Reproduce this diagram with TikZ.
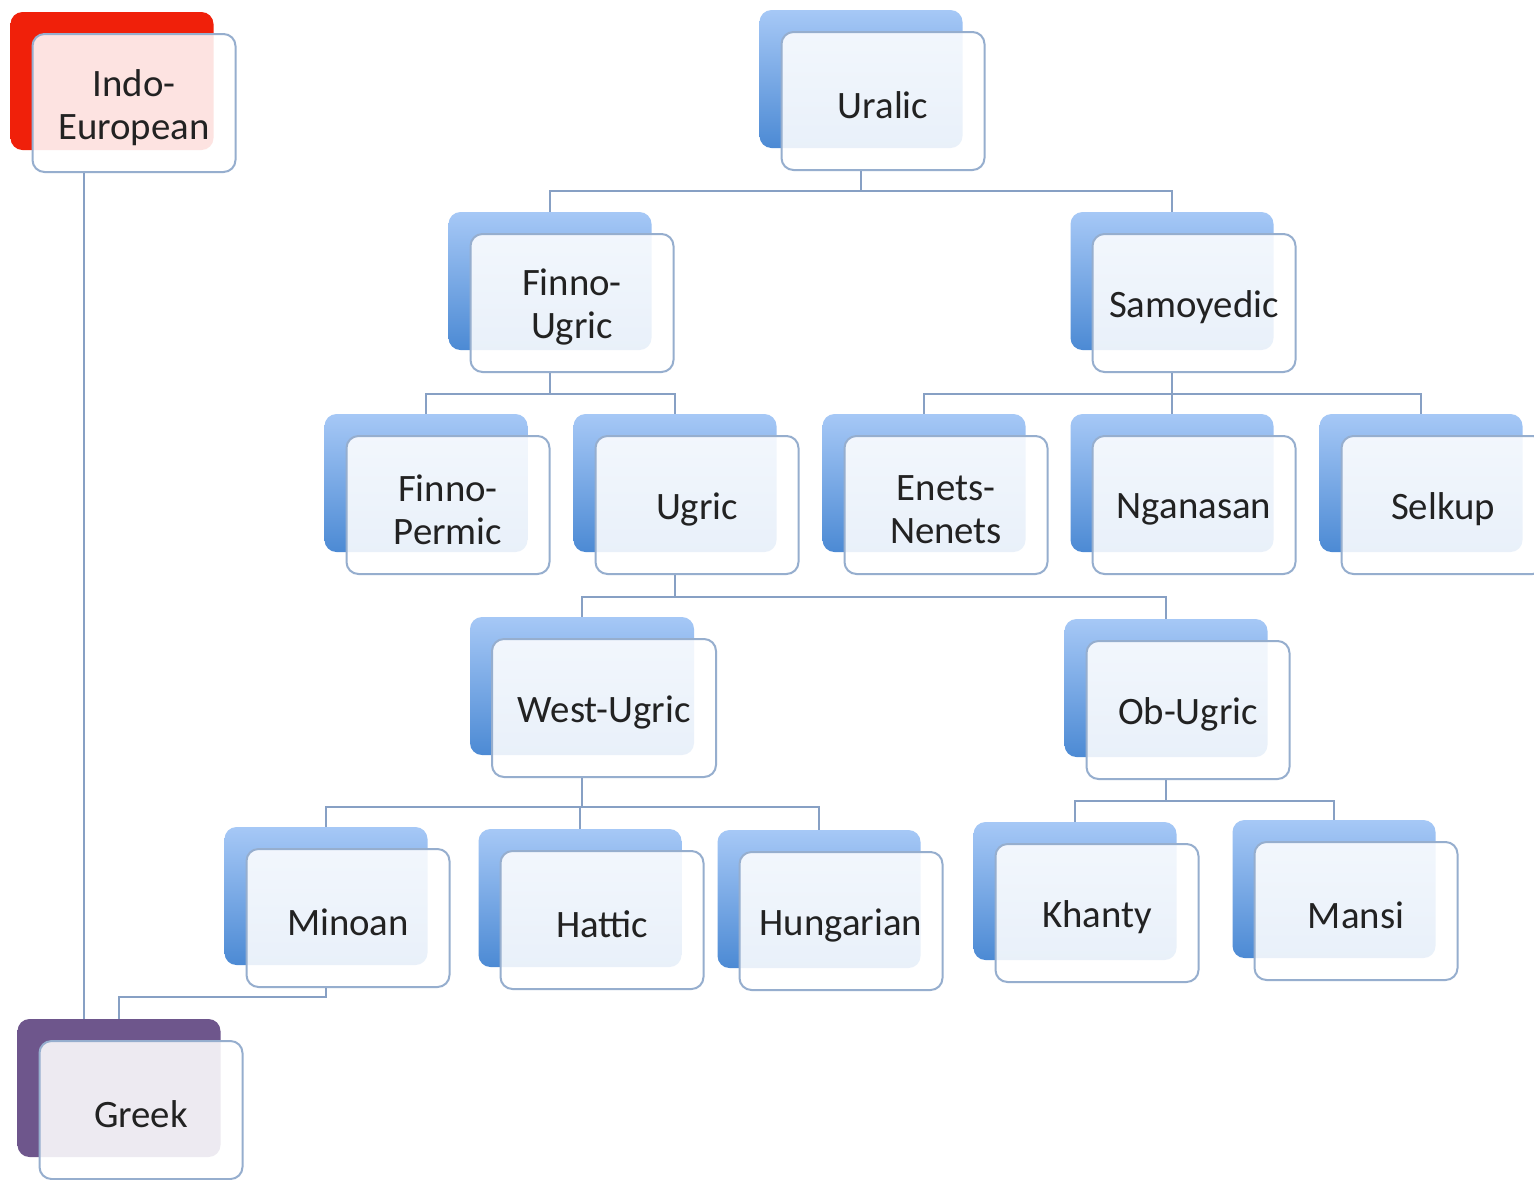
\documentclass[tikz,border=0pt]{standalone}
\usepackage{fontspec}
\setmainfont{Carlito}
\usetikzlibrary{calc}
\definecolor{BackTop}{RGB}{166,200,246}
\definecolor{BackBottom}{RGB}{76,138,212}
\definecolor{FrontLine}{RGB}{150,174,206}
\definecolor{LinkLine}{RGB}{135,160,196}
\definecolor{IndoRed}{RGB}{240,32,10}
\definecolor{GreekPurple}{RGB}{110,86,140}
\definecolor{LabelGrey}{RGB}{34,34,34}

% back card + front card, front card placed at #3
\newcommand\langbox[5][]{%
  \node[back,#1,#4] (#2b) at ($#3+(-22,-22)$) {};
  \node[front,#1,label={[labeltext]center:{#5}}] (#2) at #3 {};
}

\begin{document}
\begin{tikzpicture}[
  x=0.5pt, y=-0.5pt,
  card/.style={rounded corners=6pt,inner sep=0pt,minimum width=101.5pt,minimum height=69pt},
  back/.style={card,top color=BackTop,bottom color=BackBottom},
  red/.style={top color=IndoRed,bottom color=IndoRed},
  purple/.style={top color=GreekPurple,bottom color=GreekPurple},
  front/.style={card,draw=FrontLine,line width=1pt,fill=white,fill opacity=0.88},
  labeltext/.style={yshift=-2.2pt,inner sep=0pt,text=LabelGrey,align=center,
    font=\fontsize{19.4pt}{21.5pt}\selectfont},
  wide/.style={minimum width=112pt},
  link/.style={draw=LinkLine,line width=1.2pt}
]
  \fill[white] (0,0) rectangle (1534,1179);
  \useasboundingbox (0,0) rectangle (1534,1179);

  \langbox{ie}{(134,103)}{red}{Indo-\\European}
  \langbox{uralic}{(883,101)}{}{Uralic}
  \langbox{fugric}{(572,303)}{}{Finno-\\Ugric}
  \langbox{samoyedic}{(1194,303)}{}{Samoyedic}
  \langbox{fpermic}{(448,505)}{}{Finno-\\Permic}
  \langbox{ugric}{(697,505)}{}{Ugric}
  \langbox{enets}{(946,505)}{}{Enets-\\Nenets}
  \langbox{nganasan}{(1194,505)}{}{Nganasan}
  \langbox{selkup}{(1443,505)}{}{Selkup}
  \langbox[wide]{wugric}{(604,708)}{}{West-Ugric}
  \langbox{obugric}{(1188,710)}{}{Ob-Ugric}
  \langbox{minoan}{(348,918)}{}{Minoan}
  \langbox{hattic}{(602,920)}{}{Hattic}
  \langbox{hungarian}{(841,921)}{}{Hungarian}
  \langbox{khanty}{(1097,913)}{}{Khanty}
  \langbox{mansi}{(1356,911)}{}{Mansi}
  \langbox{greek}{(141,1110)}{purple}{Greek}

  % tree connectors
  \foreach \c in {fugric,samoyedic}
    \draw[link] (uralicb.south |- uralic.south) -- ++(0,20) -| (\c b.north);
  \foreach \c in {fpermic,ugric}
    \draw[link] (fugricb.south |- fugric.south) -- ++(0,21) -| (\c b.north);
  \foreach \c in {enets,nganasan,selkup}
    \draw[link] (samoyedicb.south |- samoyedic.south) -- ++(0,21) -| (\c b.north);
  \foreach \c in {wugric,obugric}
    \draw[link] (ugricb.south |- ugric.south) -- ++(0,22) -| (\c b.north);
  \foreach \c in {minoan,hattic,hungarian}
    \draw[link] (wugricb.south |- wugric.south) -- ++(0,29) -| (\c b.north);
  \foreach \c in {khanty,mansi}
    \draw[link] (obugricb.south |- obugric.south) -- ++(0,21) -| (\c b.north);
  \draw[link] (minoanb.south |- minoan.south) -- ++(0,9) -| (greekb.north);
  \draw[link] ($(ieb.south |- ie.south)+(-28,0)$) -- ($(ieb.south |- greekb.north)+(-28,0)$);
\end{tikzpicture}
\end{document}
